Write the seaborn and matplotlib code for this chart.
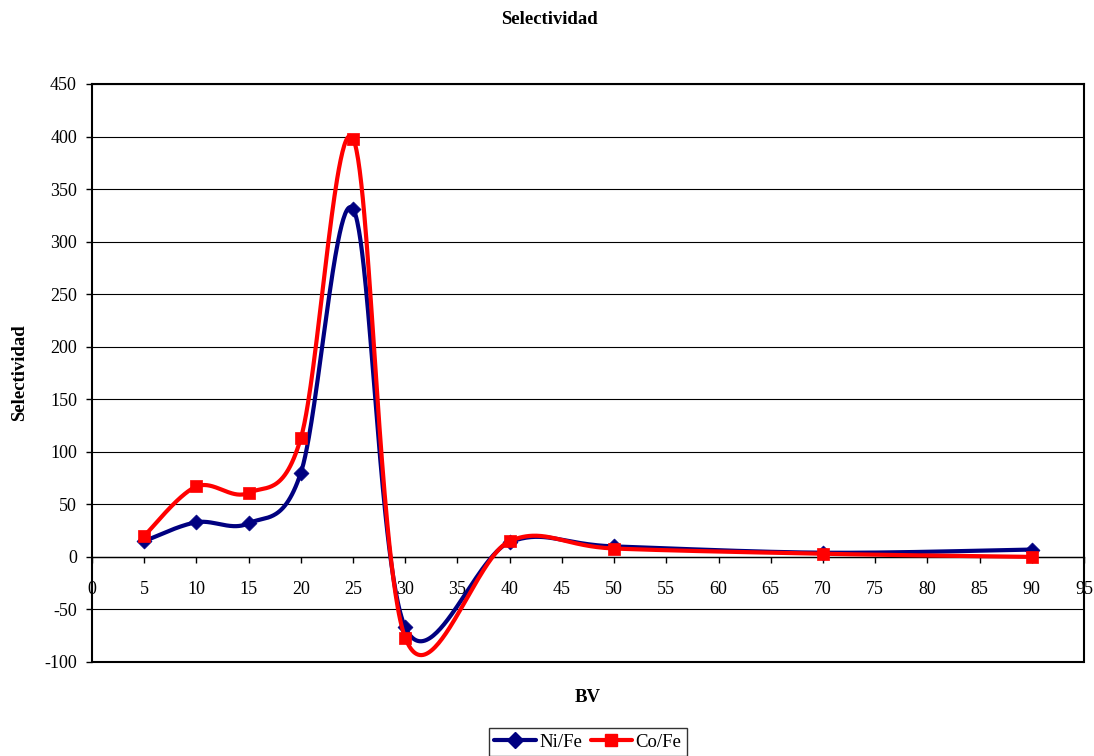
import numpy as np
import matplotlib
matplotlib.use("Agg")
import matplotlib.pyplot as plt
from matplotlib.lines import Line2D
import seaborn as sns

# Bed volumes and selectivity ratios
bv = [5, 10, 15, 20, 25, 30, 40, 50, 70, 90]
ni_fe = [15, 33, 32, 80, 331, -67, 14, 10, 4, 7]
co_fe = [20, 67, 61, 113, 398, -77, 15, 8, 3, 0]

x_ticks = list(range(0, 100, 5))
y_ticks = list(range(-100, 451, 50))


def smooth_curve(xs, ys, n=60):
    """Piecewise cubic Bezier through the points (Catmull-Rom control points)."""
    p = np.column_stack([xs, ys]).astype(float)
    segs = []
    for i in range(len(p) - 1):
        p0 = p[i - 1] if i > 0 else p[i]
        p1, p2 = p[i], p[i + 1]
        p3 = p[i + 2] if i + 2 < len(p) else p[i + 1]
        c1 = p1 + (p2 - p0) / 6.0
        c2 = p2 - (p3 - p1) / 6.0
        t = np.linspace(0, 1, n)[:, None]
        b = ((1 - t) ** 3) * p1 + 3 * ((1 - t) ** 2) * t * c1 \
            + 3 * (1 - t) * t ** 2 * c2 + t ** 3 * p2
        segs.append(b if i == len(p) - 2 else b[:-1])
    c = np.vstack(segs)
    return c[:, 0], c[:, 1]


sns.set_theme(style="white")
plt.rcParams["font.family"] = ["Liberation Serif", "DejaVu Serif"]
plt.rcParams["text.color"] = "black"
plt.rcParams["axes.labelcolor"] = "black"
plt.rcParams["xtick.color"] = "black"
plt.rcParams["ytick.color"] = "black"

fig = plt.figure(figsize=(10.94, 7.56), dpi=100)
ax = fig.add_axes([92 / 1094, 1 - 662 / 756, 992 / 1094, 578 / 756])

series = [
    ("Ni/Fe", ni_fe, "#000080", "D", 58),
    ("Co/Fe", co_fe, "#FF0000", "s", 80),
]

z = 3
for name, vals, col, mk, ms in series:
    cx, cy = smooth_curve(bv, vals)
    sns.lineplot(x=cx, y=cy, sort=False, estimator=None, color=col,
                 linewidth=3, ax=ax, zorder=z)
    sns.scatterplot(x=bv, y=vals, marker=mk, s=ms, color=col,
                    edgecolor=col, linewidth=0.5, ax=ax, zorder=z + 1)
    z += 2

ax.set_xlim(0, 95)
ax.set_ylim(-100, 450)
ax.set_xticks(x_ticks)
ax.set_yticks(y_ticks)
ax.set_xticklabels([str(v) for v in x_ticks])
ax.set_yticklabels([str(v) for v in y_ticks])

ax.grid(axis="y", color="black", linewidth=0.8)
ax.grid(axis="x", visible=False)
ax.set_axisbelow(True)

for side in ["left", "right", "top", "bottom"]:
    ax.spines[side].set_color("black")
    ax.spines[side].set_linewidth(1.5)
ax.spines["bottom"].set_position(("data", 0))
ax.spines["bottom"].set_linewidth(1.0)
# plot-area frame along the bottom
ax.axhline(-100, color="black", linewidth=1.5, clip_on=False, zorder=2)

ax.tick_params(axis="x", direction="out", length=4.3, width=1,
               pad=13, labelsize=13, bottom=True)
ax.tick_params(axis="y", direction="out", length=4.3, width=1,
               pad=6.5, labelsize=13, left=True)

ax.set_xlabel("BV", fontsize=13.5, fontweight="bold", va="top")
ax.xaxis.set_label_coords(0.5, -0.047)
ax.set_ylabel("Selectividad", fontsize=13.5, fontweight="bold", va="center")
ax.yaxis.set_label_coords(-0.0726, 0.5)

fig.text(0.5025, 1 - 20 / 756, "Selectividad", ha="center", va="center",
         fontsize=13.5, fontweight="bold")

handles = [
    Line2D([], [], color=col, linewidth=3, marker=mk,
           markersize=(8 if mk == "D" else 9), markeredgecolor=col)
    for _, _, col, mk, _ in series
]
leg = fig.legend(handles, [s[0] for s in series], loc="upper center",
                 bbox_to_anchor=(588 / 1094, 1 - 728 / 756), ncol=2,
                 fontsize=13.5, frameon=True, fancybox=False, shadow=False,
                 handlelength=2.2, handletextpad=0.2, columnspacing=0.45,
                 borderpad=0.3, borderaxespad=0)
leg.get_frame().set_edgecolor("black")
leg.get_frame().set_linewidth(1.0)

fig.savefig("out.png", dpi=100)
